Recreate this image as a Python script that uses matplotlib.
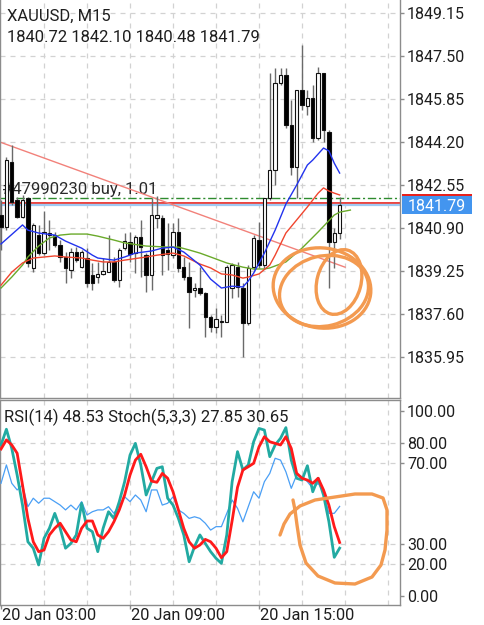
import numpy as np
import matplotlib
matplotlib.use("Agg")
import matplotlib.pyplot as plt
from matplotlib.patches import Rectangle, Ellipse
from matplotlib.transforms import Affine2D, blended_transform_factory
from matplotlib.lines import Line2D

plt.rcParams['font.family'] = ['Roboto', 'DejaVu Sans']

# ---------------- data ----------------
symbol_title = "XAUUSD, M15"
ohlc_title = "1840.72 1842.10 1840.48 1841.79"
ind_title = "RSI(14) 48.53 Stoch(5,3,3) 27.85 30.65"
order_text = "#47990230 buy, 1.01"

opens = [1841.40, 1840.94, 1843.43, 1841.97, 1841.32, 1842.05, 1839.37, 1840.63, 1839.94, 1840.63,
         1840.63, 1840.25, 1839.79, 1839.29, 1839.98, 1839.40, 1839.75, 1839.10, 1839.02, 1839.14,
         1839.21, 1839.60, 1838.90, 1840.13, 1840.36, 1839.94, 1840.55, 1839.86, 1839.10, 1841.28,
         1841.28, 1840.06, 1839.86, 1840.75, 1839.40, 1839.02, 1838.52, 1838.60, 1838.41, 1837.49,
         1837.10, 1837.29, 1837.29, 1838.60, 1839.40, 1838.60, 1837.25, 1839.40, 1840.44, 1839.48,
         1842.05, 1843.13, 1846.46, 1846.77, 1844.85, 1843.24, 1846.20, 1845.58, 1845.89, 1844.35,
         1846.85, 1844.58, 1840.36, 1840.72]
highs = [1841.97, 1843.62, 1844.09, 1842.09, 1842.17, 1842.09, 1841.09, 1841.02, 1841.55, 1841.21,
         1840.75, 1840.44, 1839.98, 1840.13, 1840.17, 1840.06, 1840.13, 1839.56, 1839.60, 1839.75,
         1840.63, 1839.79, 1840.13, 1840.71, 1840.75, 1840.63, 1841.21, 1839.94, 1842.05, 1842.13,
         1841.40, 1841.09, 1841.09, 1841.28, 1839.79, 1839.60, 1838.79, 1839.40, 1838.44, 1837.56,
         1837.83, 1837.56, 1839.48, 1839.56, 1839.60, 1838.79, 1839.48, 1840.63, 1841.13, 1842.05,
         1846.85, 1847.04, 1847.04, 1847.04, 1845.81, 1846.20, 1847.92, 1846.20, 1846.39, 1847.08,
         1846.85, 1844.66, 1840.90, 1842.10]
lows = [1840.06, 1840.82, 1841.78, 1841.28, 1841.28, 1839.40, 1839.21, 1839.86, 1839.86, 1840.06,
        1840.17, 1839.60, 1838.79, 1838.98, 1839.60, 1839.37, 1838.64, 1838.52, 1838.79, 1839.10,
        1839.21, 1838.83, 1838.64, 1840.06, 1839.60, 1839.17, 1839.02, 1838.44, 1838.52, 1840.90,
        1839.10, 1839.29, 1839.75, 1839.21, 1838.90, 1837.06, 1838.25, 1838.33, 1836.72, 1836.91,
        1836.87, 1836.72, 1837.29, 1838.21, 1838.25, 1835.95, 1837.18, 1839.29, 1839.37, 1839.37,
        1841.97, 1842.55, 1846.39, 1844.74, 1842.93, 1842.05, 1845.43, 1845.24, 1844.20, 1844.28,
        1844.20, 1838.60, 1839.37, 1840.48]
closes = [1840.94, 1843.51, 1841.90, 1841.32, 1841.97, 1839.56, 1841.02, 1839.94, 1840.75, 1840.71,
          1840.25, 1839.79, 1839.37, 1839.98, 1839.67, 1839.98, 1838.79, 1838.79, 1839.14, 1839.25,
          1839.60, 1838.90, 1840.06, 1840.40, 1839.90, 1840.55, 1840.17, 1839.10, 1841.40, 1841.40,
          1839.86, 1839.90, 1840.75, 1839.37, 1839.02, 1838.44, 1838.60, 1838.41, 1837.49, 1837.10,
          1837.41, 1837.31, 1839.40, 1839.48, 1838.64, 1837.25, 1839.37, 1840.52, 1839.48, 1842.05,
          1843.13, 1846.46, 1846.77, 1844.85, 1843.24, 1846.20, 1845.62, 1845.89, 1844.35, 1846.85,
          1844.66, 1840.36, 1840.71, 1841.79]

# moving averages, read at selected bars
ma_fast_bar = [0, 4, 5, 7, 10, 12, 15, 17, 18, 21, 23, 25, 28, 30, 32, 34, 37, 39, 41, 43, 45, 46,
               47, 49, 51, 53, 55, 57, 58, 60, 61, 62, 63]
ma_fast = [1840.29, 1841.02, 1840.82, 1840.71, 1840.63, 1840.40, 1840.13, 1839.86, 1839.75, 1839.67,
           1839.79, 1839.94, 1840.02, 1840.13, 1840.17, 1839.98, 1839.48, 1838.94, 1838.60, 1838.67,
           1838.64, 1838.87, 1839.17, 1839.94, 1840.82, 1841.82, 1842.55, 1843.32, 1843.51, 1843.97,
           1843.86, 1843.39, 1843.01]
ma_mid_bar = [0, 2, 4, 6, 8, 10, 12, 15, 17, 19, 21, 23, 27, 29, 32, 34, 37, 39, 41, 43, 45, 46,
              48, 50, 51, 53, 55, 57, 59, 60, 61, 62, 63]
ma_mid = [1838.71, 1839.21, 1839.56, 1839.75, 1839.79, 1839.83, 1839.79, 1839.75, 1839.67, 1839.60,
          1839.60, 1839.67, 1839.79, 1839.86, 1839.94, 1839.83, 1839.52, 1839.37, 1839.14, 1839.10,
          1838.98, 1839.02, 1839.14, 1839.48, 1839.86, 1840.71, 1841.21, 1841.71, 1842.24, 1842.44,
          1842.32, 1842.24, 1842.17]
ma_slow_bar = [0, 2, 4, 5, 7, 9, 11, 13, 16, 18, 21, 23, 27, 31, 33, 35, 37, 39, 42, 45, 47, 49,
               50, 53, 56, 59, 62, 63, 65]
ma_slow = [1838.60, 1839.02, 1839.48, 1839.79, 1840.21, 1840.52, 1840.63, 1840.67, 1840.67, 1840.59,
           1840.44, 1840.33, 1840.21, 1840.17, 1840.17, 1840.06, 1839.94, 1839.79, 1839.56, 1839.40,
           1839.33, 1839.33, 1839.37, 1839.60, 1840.13, 1840.75, 1841.40, 1841.51, 1841.59]

trend_bar = [-0.2, 64]
trend_price = [1844.20, 1839.40]

order_price = 1842.04
ask_price = 1841.87
bid_price = 1841.79

price_ticks = [1849.15, 1847.50, 1845.85, 1844.20, 1842.55, 1840.90, 1839.25, 1837.60, 1835.95]

stoch_main = [79.0, 86.8, 77.3, 64.1, 49.2, 31.0, 27.8, 19.5, 32.7, 37.7,
              45.1, 37.7, 27.8, 30.2, 34.4, 50.1, 37.7, 36.0, 26.1, 37.7,
              45.9, 42.6, 50.9, 60.8, 74.0, 79.8, 69.1, 54.2, 60.8, 67.4,
              68.2, 52.6, 49.2, 42.6, 34.4, 21.1, 28.6, 34.4, 30.2, 26.1,
              22.8, 20.3, 34.4, 60.8, 75.7, 66.6, 69.1, 80.6, 87.2, 86.4,
              73.2, 79.0, 82.3, 87.6, 71.5, 62.5, 61.6, 68.7, 55.8, 62.5,
              54.2, 41.0, 23.3, 27.85]
stoch_signal = [77.0, 81.5, 79.0, 74.9, 59.1, 42.6, 31.0, 26.1, 26.9, 34.4,
                37.7, 40.2, 36.0, 31.9, 31.0, 37.7, 41.3, 41.3, 34.4, 32.7,
                36.0, 40.9, 46.8, 54.2, 64.1, 71.5, 74.4, 68.2, 61.1, 60.5,
                64.9, 62.5, 55.8, 46.8, 37.7, 31.0, 27.8, 29.4, 32.2, 31.0,
                27.8, 23.1, 26.1, 41.5, 58.0, 66.6, 68.2, 69.9, 78.1, 83.1,
                80.6, 79.8, 79.0, 83.1, 77.3, 65.0, 62.5, 61.6, 60.0, 62.5,
                56.7, 49.2, 38.5, 30.65]
rsi = [60.0, 69.1, 60.0, 56.7, 59.1, 48.4, 52.6, 50.1, 52.6, 52.6,
       50.9, 49.2, 46.8, 49.2, 46.8, 50.9, 44.3, 45.9, 46.8, 46.8,
       48.4, 45.1, 49.2, 53.3, 50.9, 54.2, 51.7, 45.9, 56.7, 56.7,
       49.2, 50.1, 53.3, 46.8, 45.1, 42.6, 43.4, 42.6, 40.2, 36.8,
       38.5, 38.5, 45.1, 51.7, 47.6, 40.9, 48.4, 55.8, 52.6, 60.8,
       64.9, 72.4, 71.5, 65.7, 57.5, 64.1, 63.3, 60.8, 57.5, 60.0,
       55.8, 45.1, 45.1, 48.53]
ind_levels = [80, 70, 30, 20]
ind_tick_labels = ["100.00", "80.00", "70.00", "30.00", "20.00", "0.00"]

time_tick_bars = [0, 24, 48]
time_labels = ["20 Jan 03:00", "20 Jan 09:00", "20 Jan 15:00"]

# ---------------- figure ----------------
W, H = 484, 625
fig = plt.figure(figsize=(W / 100, H / 100), dpi=100)
fig.patch.set_facecolor('white')


def add_ax(x0, y0, x1, y1):
    return fig.add_axes([x0 / W, 1 - y1 / H, (x1 - x0) / W, (y1 - y0) / H])


ax = add_ax(0, 0, 400, 398)
ax2 = add_ax(0, 400, 400, 605)

XMIN, XMAX = -0.19, 74.23
for a in (ax, ax2):
    a.set_xlim(XMIN, XMAX)
    a.set_facecolor('white')
ax.set_ylim(1834.38, 1849.65)
ax2.set_ylim(-0.35, 101.3)

GRID = '#d2d2d2'
SPINE = '#8c8c8c'
TXT = '#1e1e1e'
for a in (ax, ax2):
    for s in a.spines.values():
        s.set_color(SPINE)
        s.set_linewidth(1)
ax.spines['top'].set_visible(False)

grid_bars = np.arange(8, 75, 8)
for p in price_ticks:
    ax.axhline(p, color=GRID, lw=0.9, ls=(0, (4, 4)), zorder=0)
for g in grid_bars:
    ax.axvline(g, color=GRID, lw=0.9, ls=(0, (4, 4)), zorder=0)
    ax2.axvline(g, color=GRID, lw=0.9, ls=(0, (4, 4)), zorder=0)
for v in ind_levels:
    ax2.axhline(v, color=GRID, lw=0.9, ls=(0, (4, 4)), zorder=0)

# order text & levels
blend = blended_transform_factory(ax.transAxes, ax.transData)
ax.text(0.005, order_price + 0.15, order_text, transform=blend, fontsize=12,
        color='#2a2a2a', va='baseline', ha='left', zorder=1)
ax.axhline(order_price, color='#2e8b2e', lw=1, ls=(0, (6, 2, 1.5, 2)), zorder=2)
ax.axhline(ask_price, color='#e8211c', lw=1.2, zorder=2)
ax.axhline(bid_price, color='#9fcaf3', lw=1.6, zorder=2)

# trend line
ax.plot(trend_bar, trend_price, color='#f2817a', lw=1.0, zorder=2)

# candles
for i, (o, h, l, c) in enumerate(zip(opens, highs, lows, closes)):
    ax.plot([i, i], [l, h], color='#6a6a6a', lw=1.0, zorder=3, solid_capstyle='butt')
    up = c >= o
    bottom = min(o, c)
    height = max(abs(c - o), 0.03)
    ax.add_patch(Rectangle((i - 0.31, bottom), 0.62, height,
                           facecolor='white' if up else 'black',
                           edgecolor='#111111', lw=0.8, zorder=4))

# moving averages
ax.plot(ma_slow_bar, ma_slow, color='#6aaa2a', lw=1.0, zorder=5)
ax.plot(ma_mid_bar, ma_mid, color='#f0452e', lw=1.0, zorder=5)
ax.plot(ma_fast_bar, ma_fast, color='#2233ee', lw=1.0, zorder=5)

# price axis
ax.yaxis.tick_right()
ax.set_yticks(price_ticks)
ax.set_yticklabels([f"{p:.2f}" for p in price_ticks])
ax.tick_params(axis='y', length=3, width=1, color=SPINE, pad=2, labelsize=11.5,
               labelcolor=TXT)
ax.set_xticks([])

# ask / bid labels on the price axis
lab_h = 18 * (1849.65 - 1834.38) / 398
ax.add_patch(Rectangle((1.005, ask_price - lab_h / 2), 0.175, lab_h, transform=blend,
                       facecolor='#e8211c', edgecolor='none', clip_on=False, zorder=6))
ax.add_patch(Rectangle((1.005, bid_price - lab_h / 2), 0.175, lab_h, transform=blend,
                       facecolor='#4395ef', edgecolor='none', clip_on=False, zorder=7))
ax.text(1.0925, bid_price, f"{bid_price:.2f}", transform=blend, color='white',
        fontsize=11.5, ha='center', va='center_baseline', zorder=8, clip_on=False)

# indicator panel
ibars = np.arange(len(rsi))
ax2.plot(ibars, rsi, color='#4a9ff5', lw=0.9, zorder=3)
ax2.plot(ibars, stoch_main, color='#22aaa2', lw=2.0, zorder=4)
ax2.plot(ibars, stoch_signal, color='#ff1a1a', lw=2.0, zorder=5)

ax2.yaxis.tick_right()
ax2.set_yticks([95.8] + ind_levels + [4.1])
ax2.set_yticklabels(ind_tick_labels)
ax2.tick_params(axis='y', length=3, width=1, color=SPINE, pad=2, labelsize=11.5,
                labelcolor=TXT)
ax2.set_xticks(time_tick_bars)
ax2.set_xticklabels([])
ax2.tick_params(axis='x', length=3, width=1, color=SPINE)

# time labels, left-aligned at their ticks
blend2 = blended_transform_factory(ax2.transData, fig.transFigure)
for b, lab in zip(time_tick_bars, time_labels):
    fig.text(0, 0, lab, transform=blend2, fontsize=11.8, color=TXT, va='baseline',
             ha='left').set_position((b + 0.2, 1 - 620.5 / H))

# titles
def ftext(x, y, s, **kw):
    fig.text(x / W, 1 - y / H, s, **kw)

ftext(7, 21, symbol_title, fontsize=12, color=TXT, va='baseline')
ftext(7, 42, ohlc_title, fontsize=12, color=TXT, va='baseline')
ftext(4, 422, ind_title, fontsize=12, color=TXT, va='baseline')

# hand-drawn orange marks
pix = Affine2D().scale(1 / W, -1 / H).translate(0, 1) + fig.transFigure
ORANGE = '#f39a50'
for (cx, cy, w, h, ang) in [(322, 288, 98, 80, 8), (324, 291, 90, 70, -14), (339, 282, 44, 66, 15)]:
    fig.add_artist(Ellipse((cx, cy), w, h, angle=ang, transform=pix, fill=False,
                           edgecolor=ORANGE, lw=2.4, zorder=20))
doodle_x = [280, 284, 290, 300, 315, 335, 355, 372, 383, 387, 387, 385, 381, 372, 355, 335, 318,
            306, 300, 297, 295, 293]
doodle_y = [535, 524, 514, 506, 500, 497, 494, 494, 498, 510, 530, 550, 565, 577, 584, 583, 576,
            563, 545, 525, 510, 500]
fig.add_artist(Line2D(doodle_x, doodle_y, transform=pix, color=ORANGE, lw=2.4,
                      solid_capstyle='round', solid_joinstyle='round', zorder=20))

fig.savefig("out.png", dpi=100, facecolor='white')
